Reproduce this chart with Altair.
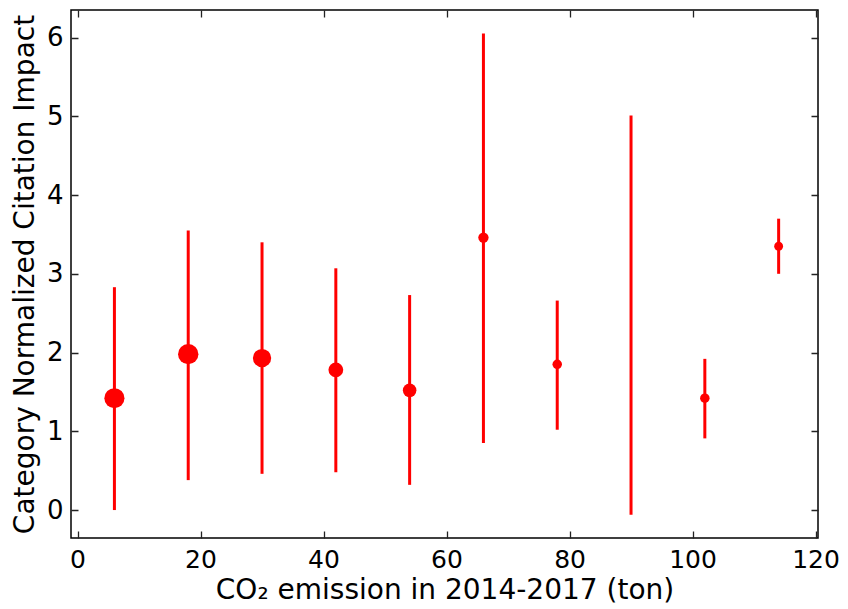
import altair as alt
import pandas as pd

# data
co2 = [6, 18, 30, 42, 54, 66, 78, 90, 102, 114]
cnci = [1.42, 1.98, 1.93, 1.78, 1.52, 3.46, 1.85, 2.46, 1.42, 3.35]
low = [0.0, 0.38, 0.46, 0.48, 0.32, 0.85, 1.02, -0.06, 0.91, 3.00]
high = [2.83, 3.55, 3.40, 3.07, 2.73, 6.05, 2.66, 5.01, 1.92, 3.70]
weight = [405, 415, 336, 219, 184, 107, 90, 3, 90, 79]

x_ticks = [0, 20, 40, 60, 80, 100, 120]
y_ticks = [0, 1, 2, 3, 4, 5, 6]

df = pd.DataFrame({"co2": co2, "cnci": cnci, "low": low, "high": high, "weight": weight})

W, H = 747, 528
RED = "#ff0000"
FONT = "DejaVu Sans"

x_scale = alt.Scale(domain=[-1.06, 120.4], nice=False, zero=False)
y_scale = alt.Scale(domain=[-0.355, 6.35], nice=False, zero=False)

x_axis = alt.Axis(
    values=x_ticks, format="d", title="CO₂ emission in 2014-2017 (ton)",
    grid=True, gridColor="#222222", gridWidth=1.3, gridOpacity=1,
    gridDash=[7, H - 14, 7, 3000],
    ticks=False, domain=False, labelPadding=9, labelFontSize=25,
    labelFont=FONT, labelColor="black", titleFont=FONT, titleFontSize=28,
    titleFontWeight="normal", titleColor="black", titlePadding=4,
    labelFlush=False,
)
y_axis = alt.Axis(
    values=y_ticks, format="d", title="Category Normalized Citation Impact",
    grid=True, gridColor="#222222", gridWidth=1.3, gridOpacity=1,
    gridDash=[7, W - 14, 7, 3000],
    ticks=False, domain=False, labelPadding=8, labelFontSize=26,
    labelFont=FONT, labelColor="black", titleFont=FONT, titleFontSize=28,
    titleFontWeight="normal", titleColor="black", titlePadding=7,
    labelFlush=False,
)

bars = alt.Chart(df).mark_rule(color=RED, strokeWidth=3).encode(
    x=alt.X("co2:Q", scale=x_scale, axis=x_axis),
    y=alt.Y("low:Q", scale=y_scale, axis=y_axis),
    y2="high:Q",
)
points = alt.Chart(df).mark_circle(color=RED, opacity=1).encode(
    x=alt.X("co2:Q", scale=x_scale),
    y=alt.Y("cnci:Q", scale=y_scale),
    size=alt.Size("weight:Q", scale=None, legend=None),
)

chart = (
    alt.layer(bars, points)
    .properties(
        width=W, height=H,
        autosize=alt.AutoSizeParams(type="none"),
        padding={"left": 63, "top": 2, "right": 22, "bottom": 66},
    )
    .configure_view(stroke="black", strokeWidth=1.5)
)

chart.save("out.html", embed_options={"renderer": "svg", "actions": False})
